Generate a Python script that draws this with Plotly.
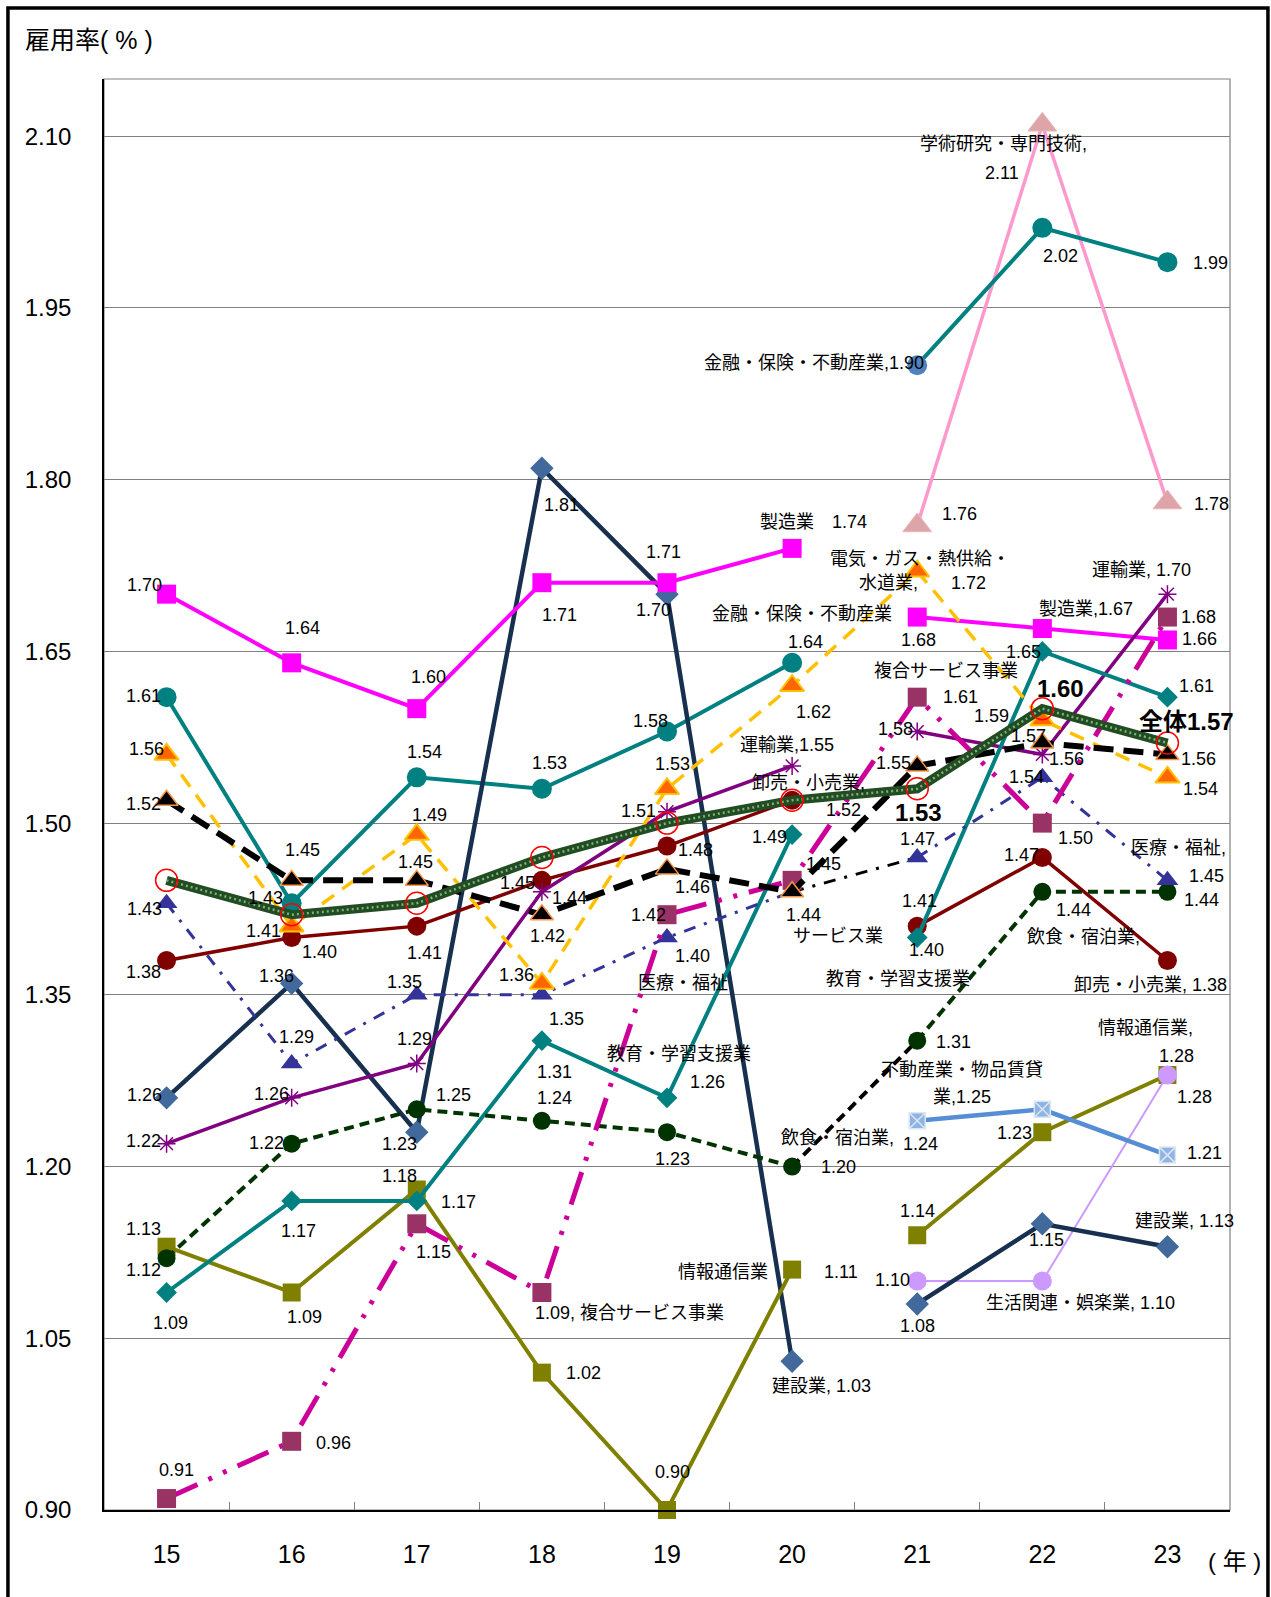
import plotly.graph_objects as go

FONT = "Liberation Sans, Noto Sans CJK JP, sans-serif"

# 年（平成）
years = ["15", "16", "17", "18", "19", "20", "21", "22", "23"]
x_pos = list(range(len(years)))
y_ticks = [0.90, 1.05, 1.20, 1.35, 1.50, 1.65, 1.80, 1.95, 2.10]

# 産業別雇用率（%）
construction = [1.26, 1.36, 1.23, 1.81, 1.70, 1.03, 1.08, 1.15, 1.13]
manufacturing = [1.70, 1.64, 1.60, 1.71, 1.71, 1.74, 1.68, 1.67, 1.66]
info_comm = [1.13, 1.09, 1.18, 1.02, 0.90, 1.11, 1.14, 1.23, 1.28]
transport = [1.22, 1.26, 1.29, 1.44, 1.51, 1.55, 1.58, 1.56, 1.70]
wholesale_retail = [1.38, 1.40, 1.41, 1.45, 1.48, 1.52, 1.41, 1.47, 1.38]
finance = [1.61, 1.43, 1.54, 1.53, 1.58, 1.64, 1.90, 2.02, 1.99]
utilities = [1.56, 1.41, 1.49, 1.36, 1.53, 1.62, 1.72, 1.59, 1.54]
services = [1.52, 1.45, 1.45, 1.42, 1.46, 1.44, 1.55, 1.57, 1.56]
medical_welfare = [1.43, 1.29, 1.35, 1.35, 1.40, 1.44, 1.47, 1.54, 1.45]
education = [1.09, 1.17, 1.17, 1.31, 1.26, 1.49, 1.40, 1.65, 1.61]
food_lodging = [1.12, 1.22, 1.25, 1.24, 1.23, 1.20, 1.31, 1.44, 1.44]
compound_services = [0.91, 0.96, 1.15, 1.09, 1.42, 1.45, 1.61, 1.50, 1.68]
real_estate = [None, None, None, None, None, None, 1.24, 1.25, 1.21]
academic = [None, None, None, None, None, None, 1.76, 2.11, 1.78]
living_leisure = [None, None, None, None, None, None, 1.10, 1.10, 1.28]
overall = [1.45, 1.42, 1.43, 1.47, 1.50, 1.52, 1.53, 1.60, 1.57]

OLD = (0, 5)    # 15〜20年（旧分類）
NEW = (6, 8)    # 21〜23年（新分類）
ALL = (0, 8)
BRIDGE = (5, 6)

fig = go.Figure()


def add_line(values, spans, line, marker=None, mode="lines+markers"):
    for a, b in spans:
        xs = x_pos[a:b + 1]
        ys = values[a:b + 1]
        m = dict(marker) if marker else None
        if m is not None and isinstance(m.get("color"), list):
            m["color"] = m["color"][a:b + 1]
        fig.add_trace(go.Scatter(
            x=xs, y=ys, mode=mode, line=line, marker=m,
            cliponaxis=False, hoverinfo="skip",
        ))


TEAL = "#008080"
NAVY_LINE = dict(color="#17304F", width=4.5)
NAVY_MARK = dict(symbol="diamond", size=18, color="#41699C")

add_line(academic, [NEW], dict(color="#FF99CC", width=3.5),
         dict(symbol="triangle-up", size=25, color="#DDA5A8",
              line=dict(color="#E8B7BA", width=1)))
add_line(finance, [OLD, NEW], dict(color=TEAL, width=4),
         dict(symbol="circle", size=20,
              color=[TEAL] * 6 + ["#4F81BD", TEAL, TEAL]))
add_line(construction, [OLD], NAVY_LINE, NAVY_MARK)
add_line(manufacturing, [OLD, NEW], dict(color="#FF00FF", width=4),
         dict(symbol="square", size=19, color="#FF00FF"))
add_line(info_comm, [OLD, NEW], dict(color="#808000", width=4),
         dict(symbol="square", size=18, color="#808000"))
add_line(living_leisure, [NEW], dict(color="#CC99FF", width=2),
         dict(symbol="circle", size=19, color="#CC99FF"))
add_line(construction, [NEW], NAVY_LINE, NAVY_MARK)
add_line(real_estate, [NEW], dict(color="#558ED5", width=4.5),
         dict(symbol="square-x", size=16, color="#8DB4E2",
              line=dict(color="#DCE6F2", width=1.5)))
add_line(wholesale_retail, [OLD, NEW], dict(color="#800000", width=3.5),
         dict(symbol="circle", size=19, color="#800000"))
add_line(transport, [OLD, NEW], dict(color="#800080", width=3.5),
         dict(symbol="asterisk-open", size=15,
              line=dict(color="#800080", width=1.5)))
add_line(education, [OLD, NEW], dict(color=TEAL, width=4),
         dict(symbol="diamond", size=16, color=TEAL))

# 飲食・宿泊業（20→21年は黒の破線でつなぐ）
add_line(food_lodging, [BRIDGE], dict(color="black", width=4, dash="10px,6px"),
         mode="lines")
add_line(food_lodging, [OLD, NEW],
         dict(color="#003300", width=4, dash="10px,6px"),
         dict(symbol="circle", size=18, color="#003300"))

# 医療・福祉（20→21年は黒の一点鎖線）
add_line(medical_welfare, [BRIDGE],
         dict(color="black", width=3, dash="12px,9px,3px,9px"), mode="lines")
add_line(medical_welfare, [OLD, NEW],
         dict(color="#333399", width=3, dash="12px,9px,3px,9px"),
         dict(symbol="triangle-up", size=19, color="#333399"))

add_line(compound_services, [ALL],
         dict(color="#CC0099", width=5,
              dash="34px,12px,4px,12px,4px,12px"),
         dict(symbol="square", size=19, color="#993366"))
add_line(utilities, [ALL], dict(color="#FFC000", width=3.5, dash="15px,10px"),
         dict(symbol="triangle-up", size=21, color="#FF6600",
              line=dict(color="#FFC000", width=2)))
add_line(services, [ALL], dict(color="black", width=6, dash="20px,10px"),
         dict(symbol="triangle-up", size=20, color="black",
              line=dict(color="#F79646", width=1.5)))

# 全体（太線＋点模様、赤い丸印）
add_line(overall, [ALL], dict(color="#224C22", width=9), mode="lines")
add_line(overall, [ALL], dict(color="#7FAF7F", width=2.5, dash="2px,3px"),
         mode="lines")
add_line(overall, [ALL], None,
         dict(symbol="circle-open", size=22, color="red",
              line=dict(color="red", width=1.5)),
         mode="markers")


def fmt(v):
    return f"{v:.2f}"


def add_labels(values, specs, size=18, bold=False):
    for idx, tmpl, dx, dy in specs:
        text = tmpl.replace("{v}", fmt(values[idx]))
        if bold:
            text = f"<b>{text}</b>"
        fig.add_annotation(
            x=x_pos[idx], y=values[idx], xref="x", yref="y", text=text,
            showarrow=False, xshift=dx, yshift=-dy,
            xanchor="center", yanchor="middle",
            font=dict(size=size, color="black", family=FONT),
        )


V = "{v}"
add_labels(construction, [
    (0, V, -22, -3), (1, V, -15, -7), (2, V, -17, 12), (3, V, 20, 37),
    (4, V, -14, 16), (5, "建設業, {v}", 29, 25), (6, V, 0, 22), (7, V, 4, 16),
    (8, "建設業, {v}", 17, -26)])
add_labels(manufacturing, [
    (0, V, -22, -9), (1, V, 11, -35), (2, V, 12, -32), (3, V, 18, 32),
    (4, V, -4, -31), (5, "製造業　{v}", 21, -26), (6, V, 1, 23),
    (7, "製造業,{v}", 44, -20), (8, V, 32, -1)])
add_labels(info_comm, [
    (0, V, -23, -18), (1, V, 13, 25), (2, V, -17, -13), (3, V, 42, 0),
    (4, V, 5, -38), (5, "情報通信業", -69, 2), (5, V, 49, 2), (6, V, 0, -24),
    (7, V, -28, 1), (8, "情報通信業,", -22, -47), (8, V, 9, -19)])
add_labels(transport, [
    (0, V, -23, -3), (1, V, -20, -4), (2, V, -2, -25), (3, V, 28, 6),
    (4, V, -29, -1), (5, "運輸業,{v}", -5, -21), (6, V, -22, -3),
    (7, V, 24, 5), (8, "運輸業, {v}", -26, -24)])
add_labels(wholesale_retail, [
    (0, V, -23, 11), (1, V, 28, 14), (2, V, 8, 27), (3, V, -24, 3),
    (4, V, 28, 4), (5, "卸売・小売業,", 16, -17), (5, V, 51, 10),
    (6, V, 2, -25), (7, V, -21, -2), (8, "卸売・小売業, {v}", -17, 24)])
add_labels(finance, [
    (0, V, -23, -1), (1, V, -26, -5), (2, V, 8, -25), (3, V, 8, -26),
    (4, V, -17, -11), (5, V, 13, -21), (5, "金融・保険・不動産業", 10, -49),
    (6, "金融・保険・不動産業,{v}", -103, -2), (7, V, 18, 28), (8, V, 43, 1)])
add_labels(utilities, [
    (0, V, -20, -5), (1, V, -28, 5), (2, V, 13, -20), (3, V, -25, -8),
    (4, V, 5, -25), (5, V, 21, 26), (6, "電気・ガス・熱供給・", 3, -12),
    (6, "水道業,", -29, 12), (6, V, 51, 12), (7, V, -51, -4), (8, V, 33, 12)])
add_labels(services, [
    (0, V, -23, 4), (1, V, 11, -30), (2, V, -1, -18), (3, V, 6, 21),
    (4, V, 25, 18), (5, V, 11, 23), (5, "サービス業", 46, 44),
    (6, V, -24, -3), (7, V, -14, -7), (8, V, 31, 5)])
add_labels(medical_welfare, [
    (0, V, -22, 6), (1, V, 5, -27), (2, V, -12, -13), (3, V, 25, 24),
    (4, V, 25, 18), (4, "医療・福祉", 16, 45), (6, V, 0, -18),
    (7, V, -16, 0), (8, "医療・福祉,", 11, -32), (8, V, 39, -4)])
add_labels(education, [
    (0, V, 4, 31), (1, V, 7, 30), (2, V, 42, 1), (3, V, 13, 31),
    (4, V, 40, -16), (4, "教育・学習支援業", 12, -44), (5, V, -23, 2),
    (6, V, 9, 12), (6, "教育・学習支援業", -19, 41), (7, V, -19, 1),
    (8, V, 29, -11)])
add_labels(food_lodging, [
    (0, V, -23, 12), (1, V, -25, -1), (2, V, 37, -14), (3, V, 13, -23),
    (4, V, 5, 27), (5, "飲食・宿泊業,", 45, -29), (5, V, 46, 0),
    (6, V, 36, 1), (7, V, 31, 18), (7, "飲食・宿泊業,", 41, 45),
    (8, V, 34, 8)])
add_labels(compound_services, [
    (0, V, 10, -29), (1, V, 42, 2), (2, V, 17, 28),
    (3, "{v}, 複合サービス事業", 88, 21), (4, V, -19, 0), (5, V, 31, -16),
    (6, "複合サービス事業", 29, -26), (6, V, 43, 0), (7, V, 33, 15),
    (8, V, 31, 0)])
add_labels(real_estate, [
    (6, V, 3, 23), (7, "不動産業・物品賃貸", -80, -39),
    (7, "業,{v}", -80, -12), (8, V, 37, -2)])
add_labels(academic, [
    (6, V, 42, -11), (7, "学術研究・専門技術,", -39, 19), (7, V, -40, 48),
    (8, V, 44, 1)])
add_labels(living_leisure, [
    (6, V, -25, -1), (7, "生活関連・娯楽業, {v}", 38, 22), (8, V, 27, 22)])
add_labels(overall, [
    (6, V, 1, 24), (7, V, 18, -20), (8, "全体{v}", 19, -21)],
    size=24, bold=True)

# 軸タイトル
fig.add_annotation(xref="paper", yref="paper", x=-0.0719, y=1.0273,
                   xanchor="left", yanchor="middle", showarrow=False,
                   text="雇用率( % )", font=dict(size=25, color="black", family=FONT))
fig.add_annotation(xref="paper", yref="paper", x=1.0036, y=-0.0361,
                   xanchor="center", yanchor="middle", showarrow=False,
                   text="( 年 )", font=dict(size=24, color="black", family=FONT))

# プロット領域の枠と外枠
fig.add_shape(type="rect", xref="paper", yref="paper", x0=0, y0=0, x1=1, y1=1,
              line=dict(color="#808080", width=1.2), layer="below")
fig.add_shape(type="rect", xref="paper", yref="paper",
              x0=-0.0853, y0=-0.08, x1=1.0337, y1=1.0496,
              line=dict(color="black", width=3.5))

fig.update_layout(
    width=1271, height=1597,
    margin=dict(l=104, r=41, t=79, b=87),
    plot_bgcolor="white", paper_bgcolor="white",
    showlegend=False,
    font=dict(family=FONT, color="black"),
)
fig.update_xaxes(
    range=[-0.5, 8.5], tickmode="array", tickvals=x_pos, ticktext=years,
    ticks="", showgrid=False, zeroline=False,
    showline=True, linecolor="black", linewidth=1.5,
    tickfont=dict(size=25, color="black"), ticklabelstandoff=21,
    minor=dict(tickmode="array", tickvals=[0.5, 1.5, 2.5, 3.5, 4.5, 5.5, 6.5, 7.5],
               ticks="inside", ticklen=8, tickwidth=1, tickcolor="#808080",
               showgrid=False),
)
fig.update_yaxes(
    range=[0.9, 2.15], tickmode="array", tickvals=y_ticks,
    ticktext=[fmt(t) for t in y_ticks],
    showgrid=True, gridcolor="#808080", gridwidth=1, zeroline=False,
    showline=True, linecolor="black", linewidth=1.5, ticks="",
    tickfont=dict(size=24, color="black"), ticklabelstandoff=26,
)

fig.write_html("out.html")
